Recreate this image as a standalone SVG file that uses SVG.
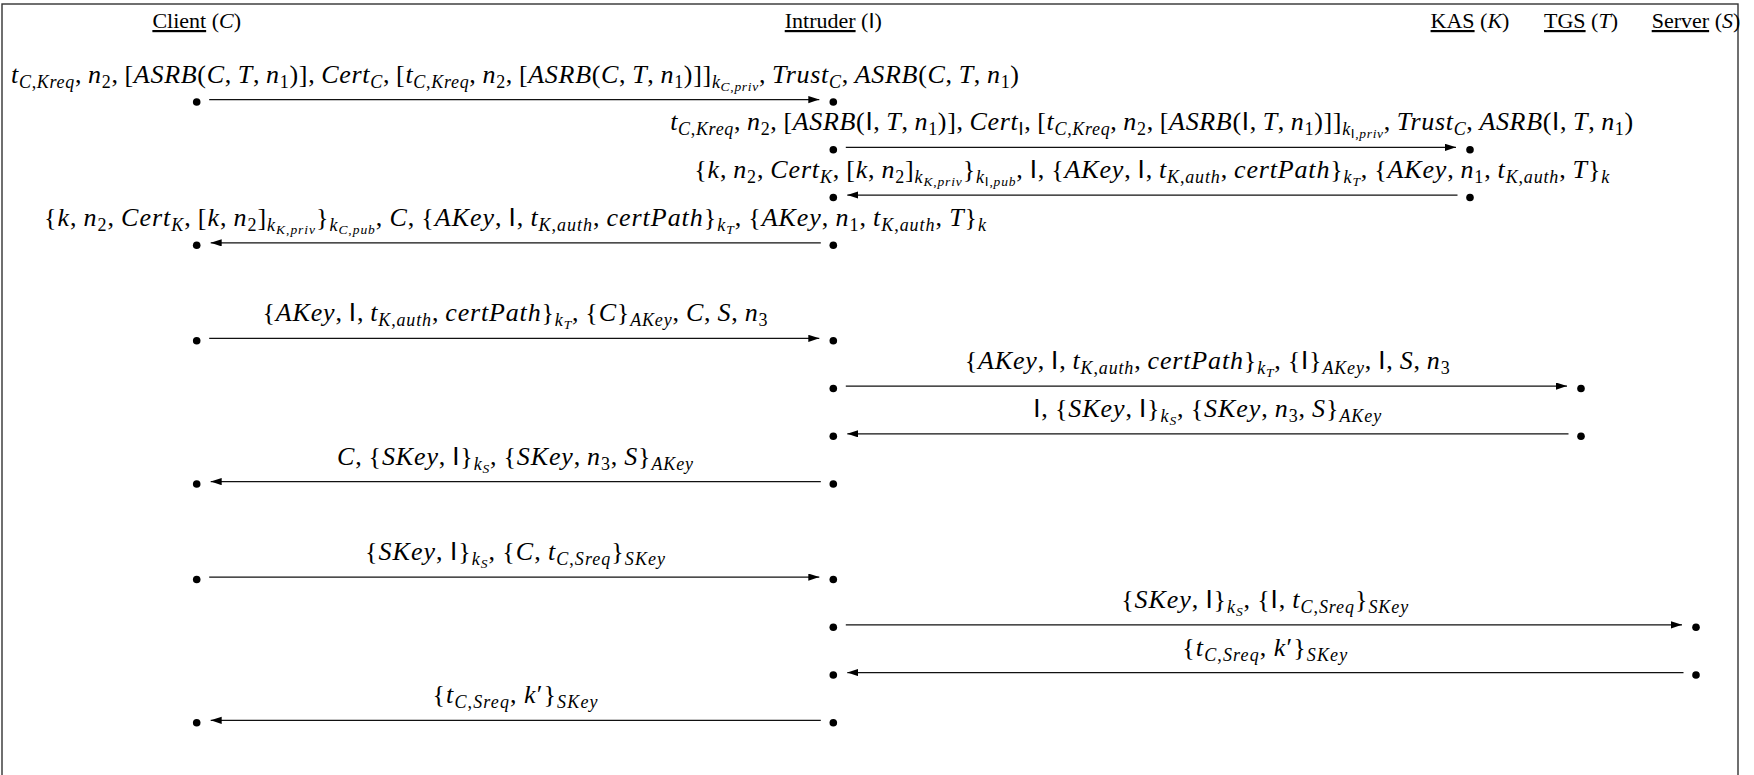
<svg xmlns="http://www.w3.org/2000/svg" width="1754" height="775" viewBox="0 0 1754 775">
<style>
.hd{font-family:"Liberation Serif",serif;font-size:22px;fill:#000;text-anchor:middle}
.u{text-decoration:underline}
.it{font-style:italic}
.m{font-family:"Liberation Serif",serif;font-size:26px;font-style:italic;fill:#000;text-anchor:middle}
.n{font-style:normal}
.sf{font-family:"Liberation Sans",sans-serif;font-style:normal}
.s{font-size:18px;baseline-shift:-5px}
.ss{font-size:13.5px;baseline-shift:-3px}
.ln{stroke:#111;stroke-width:1.3;fill:none;marker-end:url(#ah)}
.dot{fill:#000}
</style>
<defs>
<marker id="ah" markerWidth="13" markerHeight="9" refX="11" refY="3.6" orient="auto" markerUnits="userSpaceOnUse"><path d="M0,0 L11,3.6 L0,7.2 z" fill="#000"/></marker>
</defs>
<rect x="2" y="4" width="1736" height="790" fill="#fff" stroke="#333" stroke-width="1.4"/>

<g id="client">
<text class="hd" x="196.7" y="28"><tspan class="u">Client</tspan> (<tspan class="it">C</tspan>)</text>
<circle class="dot" cx="196.7" cy="102" r="3.8"/><circle class="dot" cx="196.7" cy="245.25" r="3.8"/>
<circle class="dot" cx="196.7" cy="340.75" r="3.8"/><circle class="dot" cx="196.7" cy="484" r="3.8"/>
<circle class="dot" cx="196.7" cy="579.5" r="3.8"/><circle class="dot" cx="196.7" cy="722.75" r="3.8"/>
</g>
<g id="intruder">
<text class="hd" x="833.3" y="28"><tspan class="u">Intruder</tspan> (<tspan class="sf">I</tspan>)</text>
<circle class="dot" cx="833.3" cy="102" r="3.8"/><circle class="dot" cx="833.3" cy="149.75" r="3.8"/>
<circle class="dot" cx="833.3" cy="197.5" r="3.8"/><circle class="dot" cx="833.3" cy="245.25" r="3.8"/>
<circle class="dot" cx="833.3" cy="340.75" r="3.8"/><circle class="dot" cx="833.3" cy="388.5" r="3.8"/>
<circle class="dot" cx="833.3" cy="436.25" r="3.8"/><circle class="dot" cx="833.3" cy="484" r="3.8"/>
<circle class="dot" cx="833.3" cy="579.5" r="3.8"/><circle class="dot" cx="833.3" cy="627.25" r="3.8"/>
<circle class="dot" cx="833.3" cy="675" r="3.8"/><circle class="dot" cx="833.3" cy="722.75" r="3.8"/>
</g>
<g id="kas">
<text class="hd" x="1470" y="28"><tspan class="u">KAS</tspan> (<tspan class="it">K</tspan>)</text>
<circle class="dot" cx="1470" cy="149.75" r="3.8"/><circle class="dot" cx="1470" cy="197.5" r="3.8"/>
</g>
<g id="tgs">
<text class="hd" x="1581" y="28"><tspan class="u">TGS</tspan> (<tspan class="it">T</tspan>)</text>
<circle class="dot" cx="1581" cy="388.5" r="3.8"/><circle class="dot" cx="1581" cy="436.25" r="3.8"/>
</g>
<g id="server">
<text class="hd" x="1696" y="28"><tspan class="u">Server</tspan> (<tspan class="it">S</tspan>)</text>
<circle class="dot" cx="1696" cy="627.25" r="3.8"/><circle class="dot" cx="1696" cy="675" r="3.8"/>
</g>

<g id="connectors">
<line class="ln" x1="209.2" y1="99.6" x2="819.3" y2="99.6"/>
<line class="ln" x1="845.8" y1="147.35" x2="1456" y2="147.35"/>
<line class="ln" x1="1457.5" y1="195.1" x2="847.3" y2="195.1"/>
<line class="ln" x1="820.8" y1="242.85" x2="210.7" y2="242.85"/>
<line class="ln" x1="209.2" y1="338.35" x2="819.3" y2="338.35"/>
<line class="ln" x1="845.8" y1="386.1" x2="1567" y2="386.1"/>
<line class="ln" x1="1568.5" y1="433.85" x2="847.3" y2="433.85"/>
<line class="ln" x1="820.8" y1="481.6" x2="210.7" y2="481.6"/>
<line class="ln" x1="209.2" y1="577.1" x2="819.3" y2="577.1"/>
<line class="ln" x1="845.8" y1="624.85" x2="1682" y2="624.85"/>
<line class="ln" x1="1683.5" y1="672.6" x2="847.3" y2="672.6"/>
<line class="ln" x1="820.8" y1="720.35" x2="210.7" y2="720.35"/>
</g>

<g id="labels">
<text class="m" x="515" y="82.6" textLength="1008" lengthAdjust="spacing">t<tspan class="s">C<tspan class="n">,</tspan>Kreq</tspan><tspan class="n">,&#8201;</tspan>n<tspan class="s n">2</tspan><tspan class="n">,&#8201;[</tspan>ASRB<tspan class="n">(</tspan>C<tspan class="n">,&#8201;</tspan>T<tspan class="n">,&#8201;</tspan>n<tspan class="s n">1</tspan><tspan class="n">)],&#8201;</tspan>Cert<tspan class="s">C</tspan><tspan class="n">,&#8201;[</tspan>t<tspan class="s">C<tspan class="n">,</tspan>Kreq</tspan><tspan class="n">,&#8201;</tspan>n<tspan class="s n">2</tspan><tspan class="n">,&#8201;[</tspan>ASRB<tspan class="n">(</tspan>C<tspan class="n">,&#8201;</tspan>T<tspan class="n">,&#8201;</tspan>n<tspan class="s n">1</tspan><tspan class="n">)]]</tspan><tspan class="s">k<tspan class="ss">C<tspan class="n">,</tspan>priv</tspan></tspan><tspan class="n">,&#8201;</tspan>Trust<tspan class="s">C</tspan><tspan class="n">,&#8201;</tspan>ASRB<tspan class="n">(</tspan>C<tspan class="n">,&#8201;</tspan>T<tspan class="n">,&#8201;</tspan>n<tspan class="s n">1</tspan><tspan class="n">)</tspan></text>

<text class="m" x="1151.7" y="130.35" textLength="963" lengthAdjust="spacing">t<tspan class="s">C<tspan class="n">,</tspan>Kreq</tspan><tspan class="n">,&#8201;</tspan>n<tspan class="s n">2</tspan><tspan class="n">,&#8201;[</tspan>ASRB<tspan class="n">(</tspan><tspan class="sf">I</tspan><tspan class="n">,&#8201;</tspan>T<tspan class="n">,&#8201;</tspan>n<tspan class="s n">1</tspan><tspan class="n">)],&#8201;</tspan>Cert<tspan class="s sf">I</tspan><tspan class="n">,&#8201;[</tspan>t<tspan class="s">C<tspan class="n">,</tspan>Kreq</tspan><tspan class="n">,&#8201;</tspan>n<tspan class="s n">2</tspan><tspan class="n">,&#8201;[</tspan>ASRB<tspan class="n">(</tspan><tspan class="sf">I</tspan><tspan class="n">,&#8201;</tspan>T<tspan class="n">,&#8201;</tspan>n<tspan class="s n">1</tspan><tspan class="n">)]]</tspan><tspan class="s">k<tspan class="ss"><tspan class="sf">I</tspan><tspan class="n">,</tspan>priv</tspan></tspan><tspan class="n">,&#8201;</tspan>Trust<tspan class="s">C</tspan><tspan class="n">,&#8201;</tspan>ASRB<tspan class="n">(</tspan><tspan class="sf">I</tspan><tspan class="n">,&#8201;</tspan>T<tspan class="n">,&#8201;</tspan>n<tspan class="s n">1</tspan><tspan class="n">)</tspan></text>

<text class="m" x="1151.7" y="178.1" textLength="915" lengthAdjust="spacing"><tspan class="n">{</tspan>k<tspan class="n">,&#8201;</tspan>n<tspan class="s n">2</tspan><tspan class="n">,&#8201;</tspan>Cert<tspan class="s">K</tspan><tspan class="n">,&#8201;[</tspan>k<tspan class="n">,&#8201;</tspan>n<tspan class="s n">2</tspan><tspan class="n">]</tspan><tspan class="s">k<tspan class="ss">K<tspan class="n">,</tspan>priv</tspan></tspan><tspan class="n">}</tspan><tspan class="s">k<tspan class="ss"><tspan class="sf">I</tspan><tspan class="n">,</tspan>pub</tspan></tspan><tspan class="n">,&#8201;</tspan><tspan class="sf">I</tspan><tspan class="n">,&#8201;{</tspan>AKey<tspan class="n">,&#8201;</tspan><tspan class="sf">I</tspan><tspan class="n">,&#8201;</tspan>t<tspan class="s">K<tspan class="n">,</tspan>auth</tspan><tspan class="n">,&#8201;</tspan>certPath<tspan class="n">}</tspan><tspan class="s">k<tspan class="ss">T</tspan></tspan><tspan class="n">,&#8201;{</tspan>AKey<tspan class="n">,&#8201;</tspan>n<tspan class="s n">1</tspan><tspan class="n">,&#8201;</tspan>t<tspan class="s">K<tspan class="n">,</tspan>auth</tspan><tspan class="n">,&#8201;</tspan>T<tspan class="n">}</tspan><tspan class="s">k</tspan></text>

<text class="m" x="515" y="225.85" textLength="942" lengthAdjust="spacing"><tspan class="n">{</tspan>k<tspan class="n">,&#8201;</tspan>n<tspan class="s n">2</tspan><tspan class="n">,&#8201;</tspan>Cert<tspan class="s">K</tspan><tspan class="n">,&#8201;[</tspan>k<tspan class="n">,&#8201;</tspan>n<tspan class="s n">2</tspan><tspan class="n">]</tspan><tspan class="s">k<tspan class="ss">K<tspan class="n">,</tspan>priv</tspan></tspan><tspan class="n">}</tspan><tspan class="s">k<tspan class="ss">C<tspan class="n">,</tspan>pub</tspan></tspan><tspan class="n">,&#8201;</tspan>C<tspan class="n">,&#8201;{</tspan>AKey<tspan class="n">,&#8201;</tspan><tspan class="sf">I</tspan><tspan class="n">,&#8201;</tspan>t<tspan class="s">K<tspan class="n">,</tspan>auth</tspan><tspan class="n">,&#8201;</tspan>certPath<tspan class="n">}</tspan><tspan class="s">k<tspan class="ss">T</tspan></tspan><tspan class="n">,&#8201;{</tspan>AKey<tspan class="n">,&#8201;</tspan>n<tspan class="s n">1</tspan><tspan class="n">,&#8201;</tspan>t<tspan class="s">K<tspan class="n">,</tspan>auth</tspan><tspan class="n">,&#8201;</tspan>T<tspan class="n">}</tspan><tspan class="s">k</tspan></text>

<text class="m" x="515" y="321.35" textLength="505" lengthAdjust="spacing"><tspan class="n">{</tspan>AKey<tspan class="n">,&#8201;</tspan><tspan class="sf">I</tspan><tspan class="n">,&#8201;</tspan>t<tspan class="s">K<tspan class="n">,</tspan>auth</tspan><tspan class="n">,&#8201;</tspan>certPath<tspan class="n">}</tspan><tspan class="s">k<tspan class="ss">T</tspan></tspan><tspan class="n">,&#8201;{</tspan>C<tspan class="n">}</tspan><tspan class="s">AKey</tspan><tspan class="n">,&#8201;</tspan>C<tspan class="n">,&#8201;</tspan>S<tspan class="n">,&#8201;</tspan>n<tspan class="s n">3</tspan></text>

<text class="m" x="1207.2" y="369.1" textLength="485" lengthAdjust="spacing"><tspan class="n">{</tspan>AKey<tspan class="n">,&#8201;</tspan><tspan class="sf">I</tspan><tspan class="n">,&#8201;</tspan>t<tspan class="s">K<tspan class="n">,</tspan>auth</tspan><tspan class="n">,&#8201;</tspan>certPath<tspan class="n">}</tspan><tspan class="s">k<tspan class="ss">T</tspan></tspan><tspan class="n">,&#8201;{</tspan><tspan class="sf">I</tspan><tspan class="n">}</tspan><tspan class="s">AKey</tspan><tspan class="n">,&#8201;</tspan><tspan class="sf">I</tspan><tspan class="n">,&#8201;</tspan>S<tspan class="n">,&#8201;</tspan>n<tspan class="s n">3</tspan></text>

<text class="m" x="1207.2" y="416.85" textLength="348" lengthAdjust="spacing"><tspan class="sf">I</tspan><tspan class="n">,&#8201;{</tspan>SKey<tspan class="n">,&#8201;</tspan><tspan class="sf">I</tspan><tspan class="n">}</tspan><tspan class="s">k<tspan class="ss">S</tspan></tspan><tspan class="n">,&#8201;{</tspan>SKey<tspan class="n">,&#8201;</tspan>n<tspan class="s n">3</tspan><tspan class="n">,&#8201;</tspan>S<tspan class="n">}</tspan><tspan class="s">AKey</tspan></text>

<text class="m" x="515" y="464.6" textLength="356" lengthAdjust="spacing">C<tspan class="n">,&#8201;{</tspan>SKey<tspan class="n">,&#8201;</tspan><tspan class="sf">I</tspan><tspan class="n">}</tspan><tspan class="s">k<tspan class="ss">S</tspan></tspan><tspan class="n">,&#8201;{</tspan>SKey<tspan class="n">,&#8201;</tspan>n<tspan class="s n">3</tspan><tspan class="n">,&#8201;</tspan>S<tspan class="n">}</tspan><tspan class="s">AKey</tspan></text>

<text class="m" x="515" y="560.1" textLength="300" lengthAdjust="spacing"><tspan class="n">{</tspan>SKey<tspan class="n">,&#8201;</tspan><tspan class="sf">I</tspan><tspan class="n">}</tspan><tspan class="s">k<tspan class="ss">S</tspan></tspan><tspan class="n">,&#8201;{</tspan>C<tspan class="n">,&#8201;</tspan>t<tspan class="s">C<tspan class="n">,</tspan>Sreq</tspan><tspan class="n">}</tspan><tspan class="s">SKey</tspan></text>

<text class="m" x="1264.7" y="607.85" textLength="287" lengthAdjust="spacing"><tspan class="n">{</tspan>SKey<tspan class="n">,&#8201;</tspan><tspan class="sf">I</tspan><tspan class="n">}</tspan><tspan class="s">k<tspan class="ss">S</tspan></tspan><tspan class="n">,&#8201;{</tspan><tspan class="sf">I</tspan><tspan class="n">,&#8201;</tspan>t<tspan class="s">C<tspan class="n">,</tspan>Sreq</tspan><tspan class="n">}</tspan><tspan class="s">SKey</tspan></text>

<text class="m" x="1264.7" y="655.6" textLength="165" lengthAdjust="spacing"><tspan class="n">{</tspan>t<tspan class="s">C<tspan class="n">,</tspan>Sreq</tspan><tspan class="n">,&#8201;</tspan>k<tspan class="n">′}</tspan><tspan class="s">SKey</tspan></text>

<text class="m" x="515" y="703.35" textLength="165" lengthAdjust="spacing"><tspan class="n">{</tspan>t<tspan class="s">C<tspan class="n">,</tspan>Sreq</tspan><tspan class="n">,&#8201;</tspan>k<tspan class="n">′}</tspan><tspan class="s">SKey</tspan></text>
</g>
</svg>
